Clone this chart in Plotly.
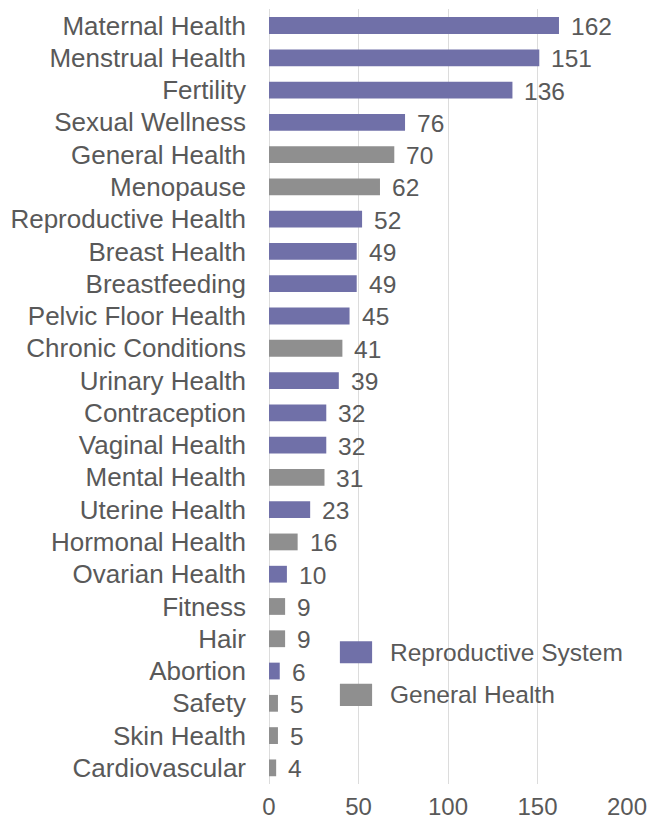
import plotly.graph_objects as go

categories = [
    "Maternal Health", "Menstrual Health", "Fertility", "Sexual Wellness",
    "General Health", "Menopause", "Reproductive Health", "Breast Health",
    "Breastfeeding", "Pelvic Floor Health", "Chronic Conditions", "Urinary Health",
    "Contraception", "Vaginal Health", "Mental Health", "Uterine Health",
    "Hormonal Health", "Ovarian Health", "Fitness", "Hair", "Abortion",
    "Safety", "Skin Health", "Cardiovascular",
]
values = [162, 151, 136, 76, 70, 62, 52, 49, 49, 45, 41, 39, 32, 32, 31, 23,
          16, 10, 9, 9, 6, 5, 5, 4]
groups = ["R", "R", "R", "R", "G", "G", "R", "R", "R", "R", "G", "R",
          "R", "R", "G", "R", "G", "R", "G", "G", "R", "G", "G", "G"]

group_names = {"R": "Reproductive System", "G": "General Health"}
group_colors = {"R": "#7070A8", "G": "#8F8F8F"}

FONT = "Liberation Sans, Arial, sans-serif"
TEXT = "#595959"

fig = go.Figure()
for g in ["R", "G"]:
    ys = [c for c, k in zip(categories, groups) if k == g]
    xs = [v for v, k in zip(values, groups) if k == g]
    fig.add_trace(go.Bar(
        x=xs, y=ys, orientation="h", name=group_names[g],
        marker=dict(color=group_colors[g], line=dict(width=0)),
        showlegend=False,
    ))

# value labels to the right of each bar
for c, v in zip(categories, values):
    fig.add_annotation(x=v, y=c, text=str(v), showarrow=False,
                       xanchor="left", xshift=10, yshift=-1,
                       font=dict(family=FONT, size=24.5, color=TEXT))

# legend drawn as swatches + labels inside the plot area
legend_items = [("R", 0.170), ("G", 0.115)]
for g, yp in legend_items:
    fig.add_shape(type="rect", xref="paper", yref="paper",
                  x0=0.198, x1=0.288, y0=yp - 0.0142, y1=yp + 0.0142,
                  fillcolor=group_colors[g], line=dict(width=0))
    fig.add_annotation(xref="paper", yref="paper", x=0.333, y=yp,
                       text=group_names[g], showarrow=False,
                       xanchor="left", yanchor="middle",
                       font=dict(family=FONT, size=24.5, color=TEXT))

fig.update_layout(
    width=648, height=826,
    margin=dict(l=269, r=21, t=9, b=42, autoexpand=False),
    paper_bgcolor="white", plot_bgcolor="white",
    barmode="overlay", bargap=0.48,
    font=dict(family=FONT, size=24, color=TEXT),
    xaxis=dict(range=[0, 200], tickvals=[0, 50, 100, 150, 200],
               automargin=False,
               showgrid=True, gridcolor="#DCDCDC", gridwidth=1,
               zeroline=True, zerolinecolor="#DCDCDC", zerolinewidth=1,
               showline=False, ticks="", ticklen=0, ticklabelstandoff=6,
               tickfont=dict(family=FONT, size=24, color=TEXT)),
    yaxis=dict(categoryorder="array", categoryarray=categories,
               autorange="reversed", showgrid=False, showline=False,
               automargin=False,
               ticks="", ticklabelstandoff=22,
               tickfont=dict(family=FONT, size=26, color=TEXT)),
)

fig.write_html("out.html")
